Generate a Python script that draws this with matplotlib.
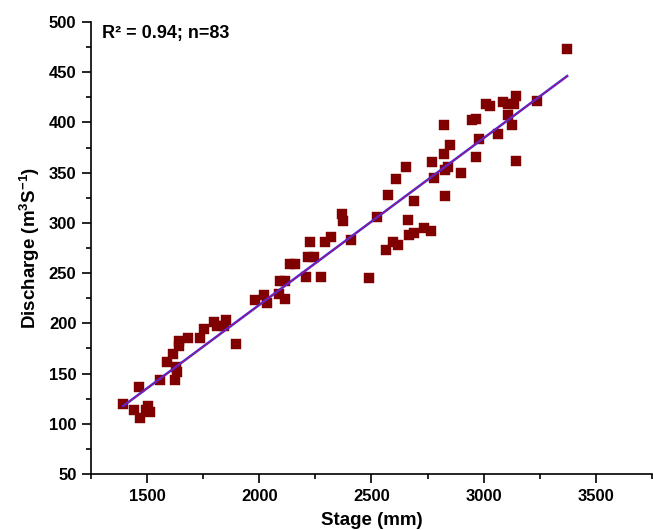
import numpy as np
import matplotlib

matplotlib.use("Agg")
import matplotlib.pyplot as plt  # noqa: E402
from matplotlib.ticker import MultipleLocator  # noqa: E402

# stage (mm) vs discharge (m3/s)
stage = [
    1394, 1442, 1469, 1465, 1495, 1505, 1512, 1558, 1588, 1615, 1625, 1633, 1630,
    1642, 1642, 1681, 1735, 1752, 1796, 1810, 1841, 1850, 1894,
    1982, 2022, 2035, 2088, 2115, 2093, 2115, 2137, 2159, 2208, 2274, 2217, 2243,
    2226, 2292, 2319, 2407, 2367, 2372, 2491, 2525,
    2566, 2597, 2619, 2664, 2668, 2690, 2735, 2765, 2575, 2611, 2655, 2690, 2770,
    2779, 2827, 2823, 2827, 2841, 2850, 2823, 2898, 2965, 2978, 2947, 2965, 3009,
    3027, 3066, 3088, 3110, 3133, 3142, 3110, 3128, 3146, 3239, 3372,
]
discharge = [
    120, 114, 106, 137, 114, 118, 112, 144, 161, 169, 144, 152, 157,
    177, 182, 185, 185, 194, 201, 197, 197, 203, 179,
    223, 228, 220, 229, 224, 242, 242, 259, 259, 246, 246, 266, 266,
    281, 281, 286, 283, 309, 302, 245, 306,
    273, 281, 278, 303, 288, 290, 295, 292, 328, 344, 356, 322, 361,
    345, 327, 369, 353, 356, 378, 397, 350, 366, 384, 402, 403, 418,
    416, 388, 420, 418, 418, 426, 407, 397, 362, 421, 473,
]
stat_text = "R² = 0.94; n=83"

plt.rcParams.update({
    "font.family": "Liberation Sans",
    "font.weight": "bold",
    "mathtext.fontset": "custom",
    "mathtext.rm": "Liberation Sans:bold",
    "mathtext.bf": "Liberation Sans:bold",
    "mathtext.it": "Liberation Sans:bold",
})

x = np.array(stage, dtype=float)
y = np.array(discharge, dtype=float)
slope, icpt = np.polyfit(x, y, 1)
xf = np.array([x.min(), x.max()])

fig = plt.figure(figsize=(6.53, 5.30), dpi=100)
ax = fig.add_axes([0.1394, 0.1057, 0.859, 0.8528])

ax.plot(x, y, "s", color="#800000", ms=7, mec="#800000", mew=0.3, zorder=2)
ax.plot(xf, slope * xf + icpt, color="#3a2cff", lw=1.8, zorder=3)
ax.plot(xf, slope * xf + icpt, color="#c0103a", lw=0.6, zorder=4)

ax.set_xlim(1250, 3750)
ax.set_ylim(50, 500)
ax.xaxis.set_major_locator(MultipleLocator(500))
ax.xaxis.set_minor_locator(MultipleLocator(250))
ax.yaxis.set_major_locator(MultipleLocator(50))
ax.yaxis.set_minor_locator(MultipleLocator(25))

for s in ("top", "right"):
    ax.spines[s].set_visible(False)
for s in ("left", "bottom"):
    ax.spines[s].set_linewidth(1.2)
ax.tick_params(which="major", direction="out", length=6.5, width=1.2, labelsize=12, pad=4)
ax.tick_params(which="minor", direction="out", length=3.5, width=1.2)
for lab in ax.get_xticklabels() + ax.get_yticklabels():
    lab.set_fontweight("bold")

ax.set_xlabel("Stage (mm)", fontsize=13.5, fontweight="bold", labelpad=6)
ax.set_ylabel(r"Discharge (m$^{3}$S$^{-1}$)", fontsize=13.5, fontweight="bold", labelpad=5)

ax.text(1300, 484, stat_text, fontsize=13, fontweight="bold", va="baseline", ha="left")

fig.savefig("out.png", dpi=100)
